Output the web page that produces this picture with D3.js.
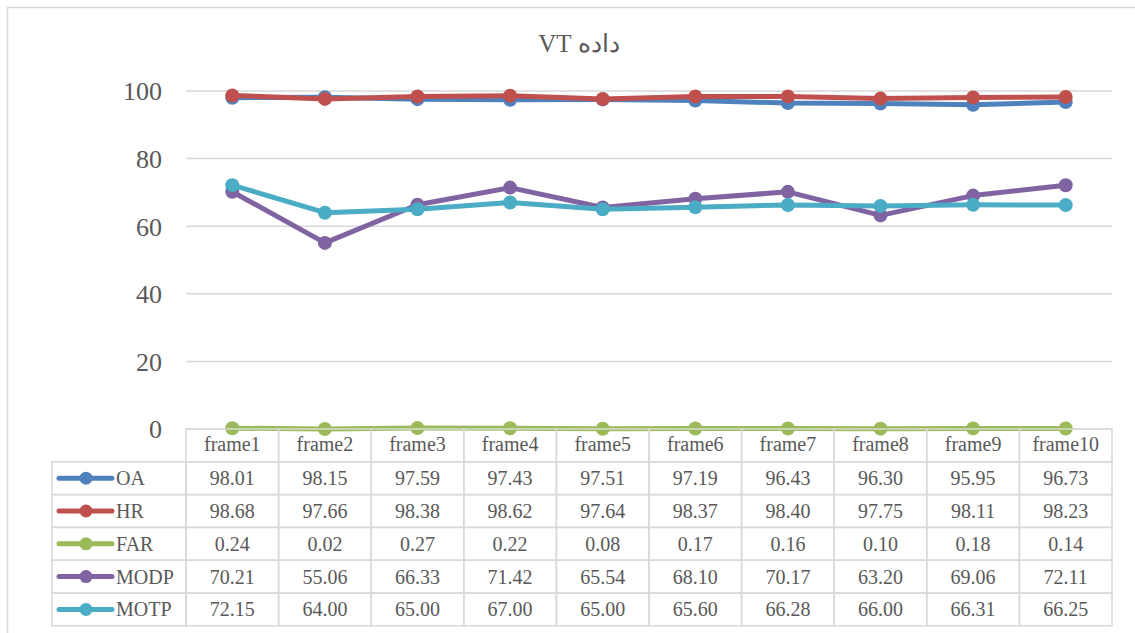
<!DOCTYPE html>
<html>
<head>
<meta charset="utf-8">
<script src="https://cdn.jsdelivr.net/npm/d3@7"></script>
<style>
    body { margin: 0; background: #fff; }
    svg text { font-family: "Liberation Serif", "Times New Roman", serif; }
</style>
</head>
<body>
<svg id="chart" width="1135" height="633"></svg>
<script>
var frames = ["frame1", "frame2", "frame3", "frame4", "frame5", "frame6", "frame7", "frame8", "frame9", "frame10"];
var seriesNames = ["OA", "HR", "FAR", "MODP", "MOTP"];
var oa = [98.01, 98.15, 97.59, 97.43, 97.51, 97.19, 96.43, 96.30, 95.95, 96.73];
var hr = [98.68, 97.66, 98.38, 98.62, 97.64, 98.37, 98.40, 97.75, 98.11, 98.23];
var far = [0.24, 0.02, 0.27, 0.22, 0.08, 0.17, 0.16, 0.10, 0.18, 0.14];
var modp = [70.21, 55.06, 66.33, 71.42, 65.54, 68.10, 70.17, 63.20, 69.06, 72.11];
var motp = [72.15, 64.00, 65.00, 67.00, 65.00, 65.60, 66.28, 66.00, 66.31, 66.25];
var yTicks = [0, 20, 40, 60, 80, 100];
var colors = ["#4f81bd", "#c0504d", "#9bbb59", "#8064a2", "#4bacc6"];

var series = [oa, hr, far, modp, motp].map(function (vals, i) {
    return { name: seriesNames[i], values: vals, color: colors[i] };
});

var svg = d3.select("#chart");
var margin = { left: 186, right: 23, top: 91, bottom: 204 };
var width = 1135 - margin.left - margin.right;
var height = 633 - margin.top - margin.bottom;
var rowH = 32.8;
var textColor = "#595959";
var gridColor = "#d9d9d9";
var cellFont = "20px";

// outer chart border
svg.append("rect")
    .attr("x", 7.5).attr("y", 7.5)
    .attr("width", 1140).attr("height", 640)
    .attr("fill", "none")
    .attr("stroke", gridColor)
    .attr("stroke-width", 1.5);

// title
svg.append("text")
    .attr("x", 579).attr("y", 52)
    .attr("text-anchor", "middle")
    .attr("direction", "rtl")
    .attr("fill", textColor)
    .style("font-size", "25px")
    .text("داده VT");

var x = d3.scaleBand().domain(frames).range([0, width]);
var y = d3.scaleLinear().domain([0, 100]).range([height, 0]);

var g = svg.append("g")
    .attr("transform", "translate(" + margin.left + "," + margin.top + ")");

// gridlines
g.selectAll(".grid")
    .data(yTicks)
    .enter()
    .append("line")
    .attr("x1", 0).attr("x2", width)
    .attr("y1", function (d) { return y(d); })
    .attr("y2", function (d) { return y(d); })
    .attr("stroke", gridColor)
    .attr("stroke-width", 1.5);

// y axis labels
var yAxis = d3.axisLeft(y).tickValues(yTicks).tickSize(0).tickPadding(24);
g.append("g").call(yAxis)
    .attr("font-family", null)
    .attr("font-size", null)
    .call(function (a) { a.select(".domain").remove(); })
    .selectAll("text")
    .attr("fill", textColor)
    .attr("dy", "0.34em")
    .style("font-size", "26px");

var line = d3.line()
    .x(function (d, i) { return x(frames[i]) + x.bandwidth() / 2; })
    .y(function (d) { return y(d); });

series.forEach(function (s) {
    g.append("path")
        .datum(s.values)
        .attr("d", line)
        .attr("fill", "none")
        .attr("stroke", s.color)
        .attr("stroke-width", 5)
        .attr("stroke-linejoin", "round");
    g.selectAll(null)
        .data(s.values)
        .enter()
        .append("circle")
        .attr("cx", function (d, i) { return x(frames[i]) + x.bandwidth() / 2; })
        .attr("cy", function (d) { return y(d); })
        .attr("r", 7)
        .attr("fill", s.color);
});

// data table
var table = g.append("g").attr("transform", "translate(0," + height + ")");
var tableLeft = 52 - margin.left;

// header row cells
frames.forEach(function (f) {
    table.append("rect")
        .attr("x", x(f)).attr("y", 0)
        .attr("width", x.bandwidth()).attr("height", rowH)
        .attr("fill", "none").attr("stroke", gridColor).attr("stroke-width", 1.5);
    table.append("text")
        .attr("x", x(f) + x.bandwidth() / 2)
        .attr("y", rowH / 2 + 6)
        .attr("text-anchor", "middle")
        .attr("fill", textColor)
        .style("font-size", cellFont)
        .text(f);
});

series.forEach(function (s, r) {
    var ry = rowH * (r + 1);
    table.append("rect")
        .attr("x", tableLeft).attr("y", ry)
        .attr("width", -tableLeft).attr("height", rowH)
        .attr("fill", "none").attr("stroke", gridColor).attr("stroke-width", 1.5);
    table.append("line")
        .attr("x1", tableLeft + 7).attr("x2", tableLeft + 60)
        .attr("y1", ry + rowH / 2).attr("y2", ry + rowH / 2)
        .attr("stroke", s.color).attr("stroke-width", 5)
        .attr("stroke-linecap", "round");
    table.append("circle")
        .attr("cx", tableLeft + 34).attr("cy", ry + rowH / 2)
        .attr("r", 6.5).attr("fill", s.color);
    table.append("text")
        .attr("x", tableLeft + 64).attr("y", ry + rowH / 2 + 7)
        .attr("fill", textColor)
        .style("font-size", cellFont)
        .text(s.name);
    s.values.forEach(function (v, i) {
        table.append("rect")
            .attr("x", x(frames[i])).attr("y", ry)
            .attr("width", x.bandwidth()).attr("height", rowH)
            .attr("fill", "none").attr("stroke", gridColor).attr("stroke-width", 1.5);
        table.append("text")
            .attr("x", x(frames[i]) + x.bandwidth() / 2)
            .attr("y", ry + rowH / 2 + 7)
            .attr("text-anchor", "middle")
            .attr("fill", textColor)
            .style("font-size", cellFont)
            .text(v.toFixed(2));
    });
});
</script>
</body>
</html>
